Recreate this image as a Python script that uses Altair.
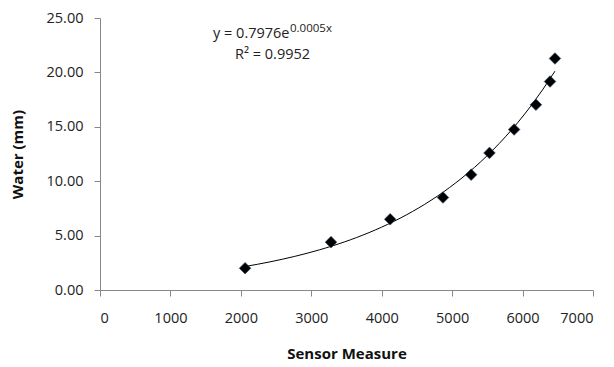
import altair as alt
import pandas as pd

sensor = [2060, 3280, 4120, 4870, 5270, 5530, 5880, 6190, 6390, 6460]
water = [2.0, 4.4, 6.5, 8.5, 10.6, 12.6, 14.75, 17.03, 19.16, 21.28]
eq_main = ["y = 0.7976e"]
eq_sup = ["0.0005x"]
r2_text = ["R² = 0.9952"]

df = pd.DataFrame({"Sensor Measure": sensor, "Water (mm)": water})

FONT = "Open Sans"

xs = alt.Scale(domain=[0, 7000], nice=False)
ys = alt.Scale(domain=[0, 25], nice=False)

base = alt.Chart(df)

points = base.mark_point(shape="diamond", filled=True, color="black", size=135, opacity=1,
                         stroke="#2a4a70", strokeWidth=0.6).encode(
    x=alt.X("Sensor Measure:Q", scale=xs,
            axis=alt.Axis(values=list(range(0, 7001, 1000)), format="d", title="Sensor Measure")),
    y=alt.Y("Water (mm):Q", scale=ys,
            axis=alt.Axis(values=[0, 5, 10, 15, 20, 25], format=".2f", title="Water (mm)")),
)

trend = base.transform_regression("Sensor Measure", "Water (mm)", method="exp").mark_line(
    color="black", strokeWidth=1).encode(
    x=alt.X("Sensor Measure:Q", scale=xs),
    y=alt.Y("Water (mm):Q", scale=ys),
)

t1 = alt.Chart(pd.DataFrame({"t": eq_main})).mark_text(
    align="left", baseline="alphabetic", font=FONT, fontSize=14.5, color="#222").encode(
    text="t:N", x=alt.value(113), y=alt.value(20))
t2 = alt.Chart(pd.DataFrame({"t": eq_sup})).mark_text(
    align="left", baseline="alphabetic", font=FONT, fontSize=11.5, color="#222").encode(
    text="t:N", x=alt.value(190), y=alt.value(14))
t3 = alt.Chart(pd.DataFrame({"t": r2_text})).mark_text(
    align="left", baseline="middle", font=FONT, fontSize=14.5, color="#222").encode(
    text="t:N", x=alt.value(135), y=alt.value(37))

chart = alt.layer(trend, points, t1, t2, t3).properties(
    width=493, height=272,
    autosize=alt.AutoSizeParams(type="none"),
    padding={"left": 92, "top": 10, "right": 13, "bottom": 73},
).configure_view(stroke=None).configure_axis(
    grid=False,
    domainColor="#888888",
    tickColor="#888888",
    tickSize=6,
    labelFont=FONT,
    labelFontSize=14.5,
    labelColor="#222",
    titleFont=FONT,
    titleFontSize=15,
    titleFontWeight="bold",
    titleColor="#111",
).configure_axisX(
    labelPadding=15, titlePadding=22,
).configure_axisY(
    labelPadding=11, titlePadding=21,
)

chart.save("out.html", embed_options={"renderer": "svg", "actions": False})
